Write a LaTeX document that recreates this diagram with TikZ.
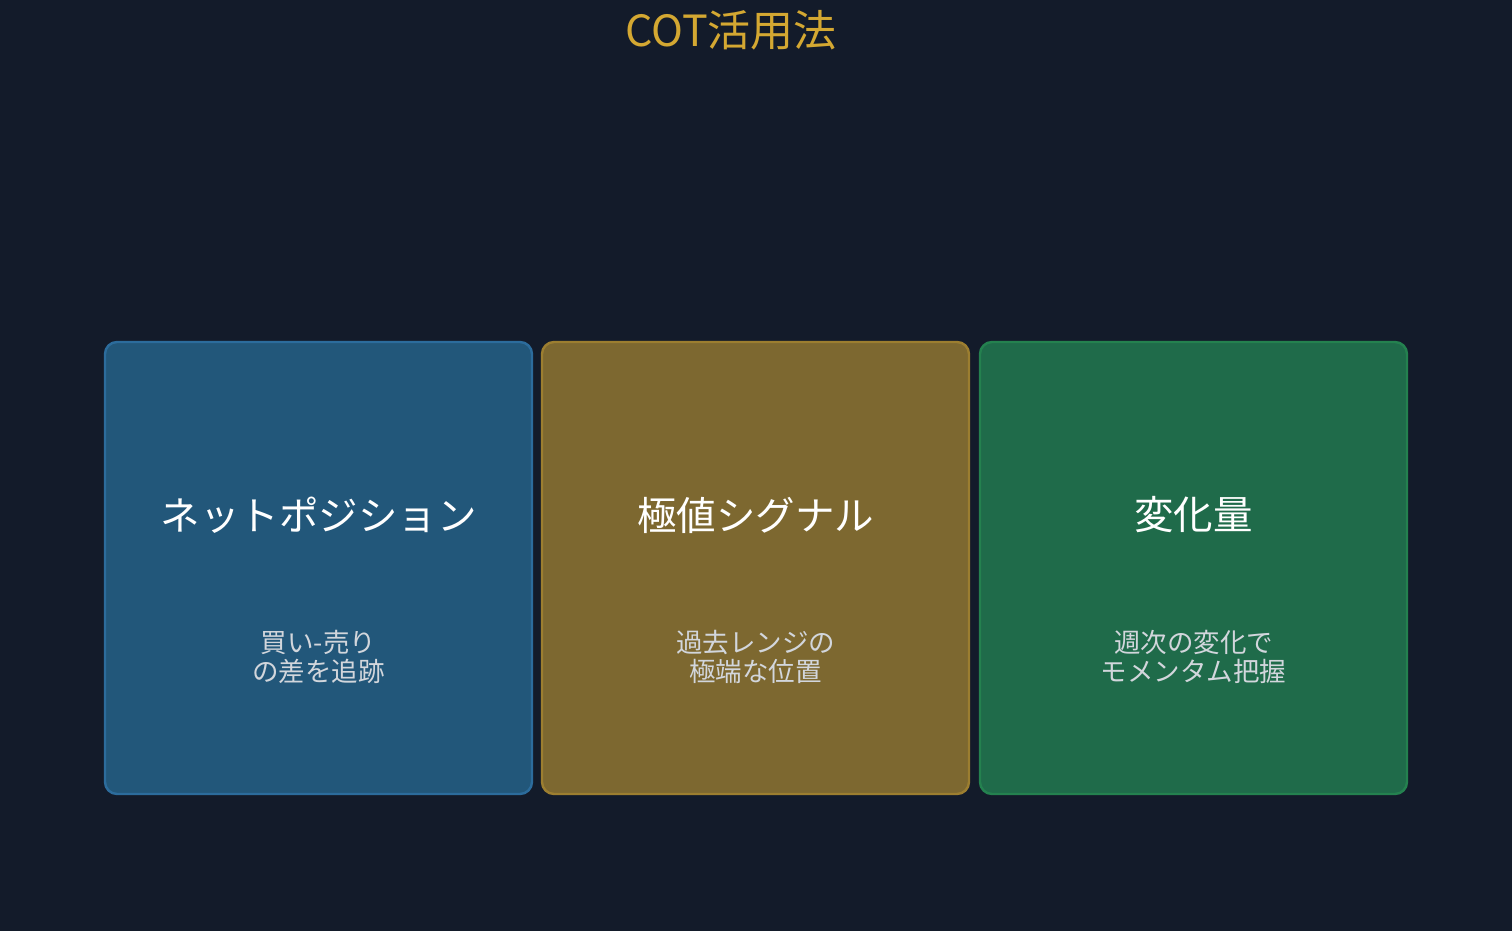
\documentclass[tikz,border=0pt]{standalone}
\usepackage{fontspec}
\setmainfont{Noto Sans CJK JP}
\definecolor{bg}{HTML}{131B2A}
\definecolor{gold}{HTML}{D4A832}
\definecolor{bluefill}{HTML}{22577A}
\definecolor{blueline}{HTML}{2C6C9C}
\definecolor{brownfill}{HTML}{7D6830}
\definecolor{brownline}{HTML}{9C7E30}
\definecolor{greenfill}{HTML}{1F6B4A}
\definecolor{greenline}{HTML}{24814F}
\definecolor{subtext}{HTML}{D2D6DC}
\tikzset{
  card/.style={rounded corners=12pt, line width=2.4pt},
  cardtitle/.style={text=white, font=\fontsize{39.5}{45}\selectfont},
  cardtext/.style={text=subtext, align=center, font=\fontsize{26.5}{28.5}\selectfont}
}
\begin{document}
\begin{tikzpicture}[x=1pt, y=-1pt]
        \fill[bg] (0,0) rectangle (1512,931);
        \useasboundingbox (0,0) rectangle (1512,931);

        \node (title) at (731, 30) [text=gold, font=\fontsize{43}{50}\selectfont] {COT活用法};

        \draw[card, fill=bluefill, draw=blueline] (105,342) rectangle (532,794);
        \draw[card, fill=brownfill, draw=brownline] (542,342) rectangle (969,794);
        \draw[card, fill=greenfill, draw=greenline] (980,342) rectangle (1407,794);

        \node (net) at (318.5, 515) [cardtitle] {ネットポジション};
        \node (ext) at (755.5, 515) [cardtitle] {極値シグナル};
        \node (chg) at (1193.5, 515) [cardtitle] {変化量};

        \node (netsub) at (318.5, 657) [cardtext] {買い-売り\\の差を追跡};
        \node (extsub) at (755.5, 657) [cardtext] {過去レンジの\\極端な位置};
        \node (chgsub) at (1193.5, 657) [cardtext] {週次の変化で\\モメンタム把握};
    \end{tikzpicture}
\end{document}
